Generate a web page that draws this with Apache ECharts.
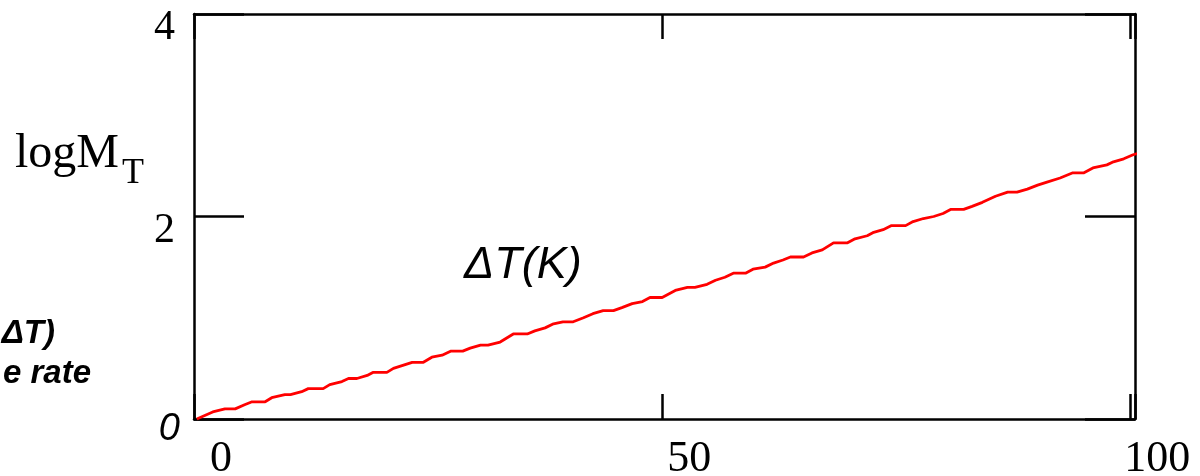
<!DOCTYPE html>
<html>
<head>
<meta charset="utf-8">
<script src="https://cdn.jsdelivr.net/npm/echarts@6/dist/echarts.min.js"></script>
<style>
  html, body { margin: 0; padding: 0; background: #fff; }
  #chart { width: 1200px; height: 476px; }
</style>
</head>
<body>
<div id="chart"></div>
<script>
// ΔT (K) values along the curve
const deltaT = [
  0.3, 2.0, 3.3, 4.4, 5.4, 6.2, 7.6, 8.3, 9.7, 10.3,
  11.5, 12.2, 13.8, 14.5, 15.8, 16.5, 17.4, 18.5, 19.1, 20.6,
  21.3, 22.3, 23.3, 24.5, 25.4, 26.5, 27.4, 28.7, 29.5, 30.6,
  31.4, 32.7, 34.1, 35.6, 36.4, 37.5, 38.4, 39.4, 40.5, 41.6,
  42.6, 43.7, 44.8, 45.7, 46.8, 47.9, 48.7, 50.0, 51.4, 52.7,
  53.5, 54.8, 55.7, 56.7, 57.6, 58.9, 59.7, 61.0, 61.9, 62.9,
  63.7, 65.1, 66.0, 67.1, 68.3, 69.8, 70.6, 71.9, 72.5, 73.6,
  74.5, 76.0, 76.8, 77.9, 79.0, 80.0, 80.8, 82.2, 83.1, 84.2,
  85.6, 86.9, 87.9, 89.0, 90.1, 91.1, 92.5, 93.8, 95.0, 96.0,
  97.5, 98.2, 99.3, 100.3, 101.4
];
// logM_T
const logMT = [
  0, 0.07, 0.10, 0.10, 0.14, 0.17, 0.17, 0.21, 0.24, 0.24,
  0.27, 0.30, 0.30, 0.34, 0.37, 0.40, 0.40, 0.43, 0.46, 0.46,
  0.50, 0.53, 0.56, 0.56, 0.61, 0.63, 0.67, 0.67, 0.70, 0.73,
  0.73, 0.76, 0.84, 0.84, 0.87, 0.90, 0.94, 0.96, 0.96, 1.00,
  1.04, 1.07, 1.07, 1.10, 1.14, 1.16, 1.20, 1.20, 1.27, 1.30,
  1.30, 1.33, 1.37, 1.40, 1.44, 1.44, 1.48, 1.50, 1.54, 1.57,
  1.60, 1.60, 1.64, 1.67, 1.74, 1.74, 1.78, 1.81, 1.84, 1.87,
  1.91, 1.91, 1.95, 1.98, 2.00, 2.03, 2.07, 2.07, 2.10, 2.14,
  2.20, 2.24, 2.24, 2.27, 2.31, 2.34, 2.38, 2.43, 2.43, 2.48,
  2.51, 2.54, 2.57, 2.61, 2.64
];
const xTicks = [0, 50, 100];
const yTicks = [0, 2, 4];

const myChart = echarts.init(document.getElementById('chart'));

const black = '#000';
const axisLine = { show: true, onZero: false, lineStyle: { color: black, width: 2.5 } };

myChart.setOption({
  animation: false,
  grid: { left: 194, right: 65, top: 14, bottom: 57, outerBoundsMode: 'none', containLabel: false },
  xAxis: [
    {
      type: 'value',
      min: 0,
      max: 100.5,
      interval: 50,
      position: 'bottom',
      axisLine: axisLine,
      axisTick: { show: true, inside: true, length: 25, lineStyle: { color: black, width: 2.5 } },
      splitLine: { show: false },
      axisLabel: {
        margin: 18,
        color: black,
        fontFamily: 'Liberation Serif',
        fontSize: 44,
        padding: [0, 0, 0, 54],
        formatter: function (v) {
          return xTicks.indexOf(v) >= 0 ? String(v) : '';
        }
      }
    },
    {
      type: 'value',
      min: 0,
      max: 100.5,
      interval: 50,
      position: 'top',
      axisLine: axisLine,
      axisTick: { show: true, inside: true, length: 25, lineStyle: { color: black, width: 2.5 } },
      splitLine: { show: false },
      axisLabel: { show: false }
    }
  ],
  yAxis: [
    {
      type: 'value',
      min: 0,
      max: 4,
      interval: 2,
      position: 'left',
      axisLine: axisLine,
      axisTick: { show: true, inside: true, length: 50, lineStyle: { color: black, width: 2.5 } },
      splitLine: { show: false },
      axisLabel: {
        margin: 14,
        color: black,
        formatter: function (v) {
          if (yTicks.indexOf(v) < 0) return '';
          return v === 0 ? '{i|0}' : '{s|' + v + '}';
        },
        rich: {
          s: { fontFamily: 'Liberation Serif', fontSize: 42, color: black, padding: [28, 5, 0, 0] },
          i: { fontFamily: 'Liberation Sans', fontStyle: 'italic', fontSize: 38, color: black, padding: [20, 0, 0, 0] }
        }
      }
    },
    {
      type: 'value',
      min: 0,
      max: 4,
      interval: 2,
      position: 'right',
      axisLine: axisLine,
      axisTick: { show: true, inside: true, length: 50, lineStyle: { color: black, width: 2.5 } },
      splitLine: { show: false },
      axisLabel: { show: false }
    }
  ],
  graphic: [
    { type: 'text', left: 15, top: 130, style: { text: 'logM', font: '48px "Liberation Serif"', fill: black } },
    { type: 'text', left: 122, top: 156, style: { text: 'T', font: '36px "Liberation Serif"', fill: black } },
    { type: 'text', left: 464, top: 243, style: { text: 'ΔT(K)', font: 'italic 45px "Liberation Sans"', fill: black } },
    { type: 'text', right: 1145, top: 317, style: { text: 'ΔT)', font: 'italic bold 33px "Liberation Sans"', fill: black } },
    { type: 'text', right: 1109, top: 357, style: { text: 'e rate', font: 'italic bold 33px "Liberation Sans"', fill: black } }
  ],
  series: [
    {
      type: 'line',
      xAxisIndex: 0,
      yAxisIndex: 0,
      showSymbol: false,
      clip: false,
      lineStyle: { color: '#ff0000', width: 2.8 },
      data: deltaT.map(function (x, i) { return [x, logMT[i]]; })
    }
  ]
});
</script>
</body>
</html>
